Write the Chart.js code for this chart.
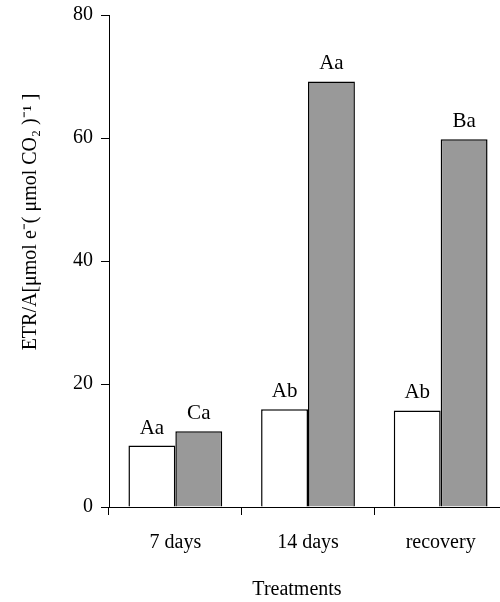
<!DOCTYPE html>
<html>
<head>
<meta charset="utf-8">
<script src="https://cdn.jsdelivr.net/npm/chart.js@4/dist/chart.umd.min.js"></script>
<style>
  html, body { margin: 0; padding: 0; background: #fff; overflow: hidden; }
  #wrap { width: 508px; height: 602px; }
</style>
</head>
<body>
<div id="wrap"><canvas id="grafico" width="508" height="602"></canvas></div>
<script>
    // data
    var categorias = ["7 days", "14 days", "recovery"];
    var valoresBrancos = [10.0, 15.9, 15.7];
    var valoresCinza = [12.3, 69.2, 59.8];
    var letrasBrancos = ["Aa", "Ab", "Ab"];
    var letrasCinza = ["Ca", "Aa", "Ba"];
    var tituloY = "ETR/A[\u03bcmol e\u207b( \u03bcmol CO\u2082 )\u207b\u00b9 ]";
    var tituloX = "Treatments";

    var fonte = "'Liberation Serif', 'Times New Roman', serif";

    // letters above each bar
    var rotulosBarras = {
        id: "rotulosBarras",
        afterDatasetsDraw: function (chart) {
            var ctx = chart.ctx;
            var letras = [letrasBrancos, letrasCinza];
            ctx.save();
            ctx.font = "21px " + fonte;
            ctx.fillStyle = "#000";
            ctx.textAlign = "center";
            ctx.textBaseline = "alphabetic";
            letras.forEach(function (lista, i) {
                chart.getDatasetMeta(i).data.forEach(function (bar, j) {
                    ctx.fillText(lista[j], bar.x, bar.y - 12);
                });
            });
            ctx.restore();
        }
    };

    // axis titles, placed like the original (not centred on the axes)
    var titulosEixos = {
        id: "titulosEixos",
        afterDraw: function (chart) {
            var ctx = chart.ctx;
            ctx.save();
            ctx.font = "20px " + fonte;
            ctx.fillStyle = "#000";
            ctx.textAlign = "center";
            ctx.textBaseline = "middle";
            ctx.fillText(tituloX, 297, 590);
            ctx.translate(31, 222);
            ctx.rotate(-Math.PI / 2);
            ctx.fillText(tituloY, 0, 0);
            ctx.restore();
        }
    };

    var ctx = document.getElementById("grafico").getContext("2d");
    var grafico = new Chart(ctx, {
        type: "bar",
        data: {
            labels: categorias,
            datasets: [{
                data: valoresBrancos,
                backgroundColor: "#ffffff",
                borderColor: "#000000",
                borderWidth: 1.5
            }, {
                data: valoresCinza,
                backgroundColor: "#999999",
                borderColor: "#000000",
                borderWidth: 1.5
            }]
        },
        options: {
            responsive: false,
            animation: false,
            layout: { padding: { left: 0, top: 15, right: 1, bottom: 0 } },
            plugins: {
                legend: { display: false },
                tooltip: { enabled: false }
            },
            datasets: {
                bar: { categoryPercentage: 0.707, barPercentage: 1.0 }
            },
            scales: {
                x: {
                    grid: { drawOnChartArea: false, offset: true, tickLength: 8, color: "#000" },
                    border: { color: "#000", width: 1 },
                    ticks: { color: "#000", padding: 16, font: { family: fonte, size: 20 } },
                    afterFit: function (scale) { scale.height = 95; }
                },
                y: {
                    min: 0,
                    max: 80,
                    grid: { drawOnChartArea: false, tickLength: 8, color: "#000" },
                    border: { color: "#000", width: 1 },
                    ticks: { stepSize: 20, color: "#000", padding: 8, font: { family: fonte, size: 20 } },
                    afterFit: function (scale) {
                        scale.width = 109;
                        scale.paddingTop = 0;
                        scale.paddingBottom = 0;
                    }
                }
            }
        },
        plugins: [rotulosBarras, titulosEixos]
    });
</script>
</body>
</html>
